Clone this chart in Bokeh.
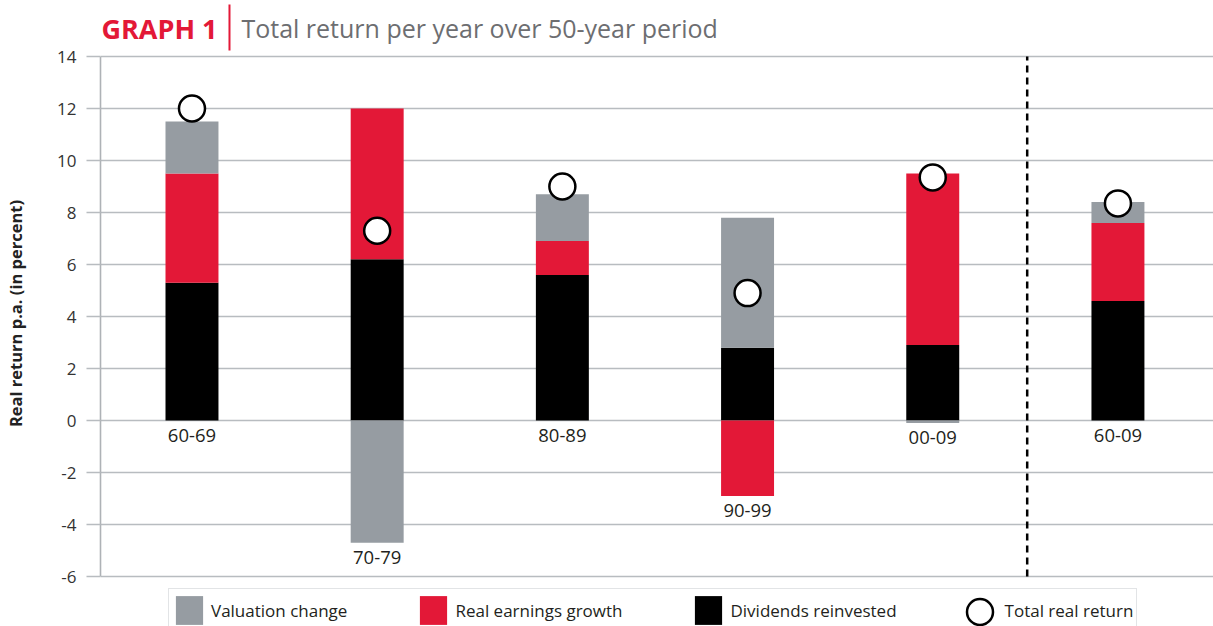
from bokeh.plotting import figure
from bokeh.models import FixedTicker, Range1d, Legend, LegendItem, ColumnDataSource
from bokeh.core.properties import value
from bokeh.embed import file_html
from bokeh.resources import INLINE

# ---- data ----
periods = ["60-69", "70-79", "80-89", "90-99", "00-09", "60-09"]
dividends = [5.3, 6.2, 5.6, 2.8, 2.9, 4.6]
earnings = [4.2, 5.8, 1.3, -2.9, 6.6, 3.0]
valuation = [2.0, -4.7, 1.8, 5.0, -0.1, 0.8]
total = [12.0, 7.3, 9.0, 4.9, 9.35, 8.35]
y_ticks = [-6, -4, -2, 0, 2, 4, 6, 8, 10, 12, 14]

series_names = ["Dividends reinvested", "Real earnings growth", "Valuation change"]
series_vals = [dividends, earnings, valuation]
series_colors = ["#000000", "#e31837", "#969ca2"]

FONT = "Open Sans"
xs = list(range(len(periods)))

# stacking (positive upward, negative downward)
pos_base = [0.0] * len(periods)
neg_base = [0.0] * len(periods)
stacks = []
for vals in series_vals:
    bottoms, tops = [], []
    for i, v in enumerate(vals):
        if v >= 0:
            bottoms.append(pos_base[i]); tops.append(pos_base[i] + v); pos_base[i] += v
        else:
            bottoms.append(neg_base[i] + v); tops.append(neg_base[i]); neg_base[i] += v
    stacks.append((bottoms, tops))

p = figure(width=1213, height=626, output_backend="svg", toolbar_location=None,
           x_range=Range1d(-0.494, 5.516), y_range=Range1d(-7.923, 16.154),
           x_axis_location=None, min_border_left=100, min_border_right=0,
           min_border_top=0, min_border_bottom=0)
p.title.visible = False
p.outline_line_color = None
p.background_fill_color = "white"
p.xgrid.visible = False
p.ygrid.ticker = FixedTicker(ticks=y_ticks)
p.ygrid.grid_line_color = "#b8bcc0"
p.ygrid.grid_line_width = 1.6

ax = p.yaxis[0]
ax.ticker = FixedTicker(ticks=y_ticks)
ax.major_label_overrides = {t: str(t) for t in y_ticks}
ax.bounds = (min(y_ticks), max(y_ticks))
ax.axis_line_color = "#aeb2b6"
ax.axis_line_width = 1.6
ax.major_tick_line_color = "#b8bcc0"
ax.major_tick_line_width = 1.6
ax.major_tick_out = 14
ax.major_tick_in = 0
ax.minor_tick_line_color = None
ax.major_label_text_font = FONT
ax.major_label_text_font_size = "17px"
ax.major_label_text_color = "#333333"
ax.major_label_standoff = 10
ax.axis_label = "Real return p.a. (in percent)"
ax.axis_label_text_font = FONT
ax.axis_label_text_font_style = "bold"
ax.axis_label_text_font_size = "16.5px"
ax.axis_label_text_color = "#222222"
ax.axis_label_standoff = 27

renderers = {}
for name, (b, t), col in zip(series_names, stacks, series_colors):
    src = ColumnDataSource(dict(x=xs, bottom=b, top=t))
    renderers[name] = p.vbar(x="x", bottom="bottom", top="top", width=0.286, source=src,
                             fill_color=col, line_color=None)

# separator dashed line between decades and full period
p.segment(x0=[4.51], y0=[min(y_ticks)], x1=[4.51], y1=[max(y_ticks)],
          line_color="black", line_width=2.5, line_dash="7 5")

sc = p.scatter(x=xs, y=total, size=26, marker="circle", fill_color="white",
               line_color="black", line_width=2.5)

# category labels below bars
label_y = [min(0.0, nb) for nb in neg_base]
p.text(x=xs, y=label_y, text=periods, text_font=value(FONT), text_font_size="18.5px",
       text_color="#231f20", text_align="center", text_baseline="top", y_offset=8)

# title
p.text(x=[-0.489], y=[15.08], text=["GRAPH 1"], text_font=value(FONT),
       text_font_style="bold", text_font_size="27px", text_color="#e31837",
       text_align="left", text_baseline="middle")
p.segment(x0=[0.2025], y0=[16.0], x1=[0.2025], y1=[14.23], line_color="#e31837", line_width=2)
p.text(x=[0.267], y=[15.08], text=["Total return per year over 50-year period"],
       text_font=value(FONT), text_font_size="25px", text_color="#6d6e71",
       text_align="left", text_baseline="middle")

legend = Legend(items=[
    LegendItem(label="Valuation change", renderers=[renderers["Valuation change"]]),
    LegendItem(label="Real earnings growth", renderers=[renderers["Real earnings growth"]]),
    LegendItem(label="Dividends reinvested", renderers=[renderers["Dividends reinvested"]]),
    LegendItem(label="Total real return", renderers=[sc]),
], orientation="horizontal", location=(68, -6))
legend.glyph_width = 34
legend.glyph_height = 36
legend.padding = 3
legend.margin = 0
legend.spacing = 69
legend.label_standoff = 5
legend.label_text_font = FONT
legend.label_text_font_size = "17px"
legend.label_text_color = "#231f20"
legend.border_line_color = "#c5c9cd"
legend.border_line_width = 1.5
legend.background_fill_color = "white"
legend.background_fill_alpha = 1
p.add_layout(legend, "center")

# overlay legend entry so the "Total real return" marker shows at full size
legend2 = Legend(items=[LegendItem(label=" ", renderers=[sc])],
                 orientation="horizontal", location=(847, -18))
legend2.glyph_width = 65
legend2.glyph_height = 65
legend2.padding = 0
legend2.margin = 0
legend2.label_standoff = 0
legend2.label_text_font_size = "1px"
legend2.border_line_color = None
legend2.background_fill_alpha = 0
p.add_layout(legend2, "center")

open("out.html", "w").write(file_html(p, INLINE))
